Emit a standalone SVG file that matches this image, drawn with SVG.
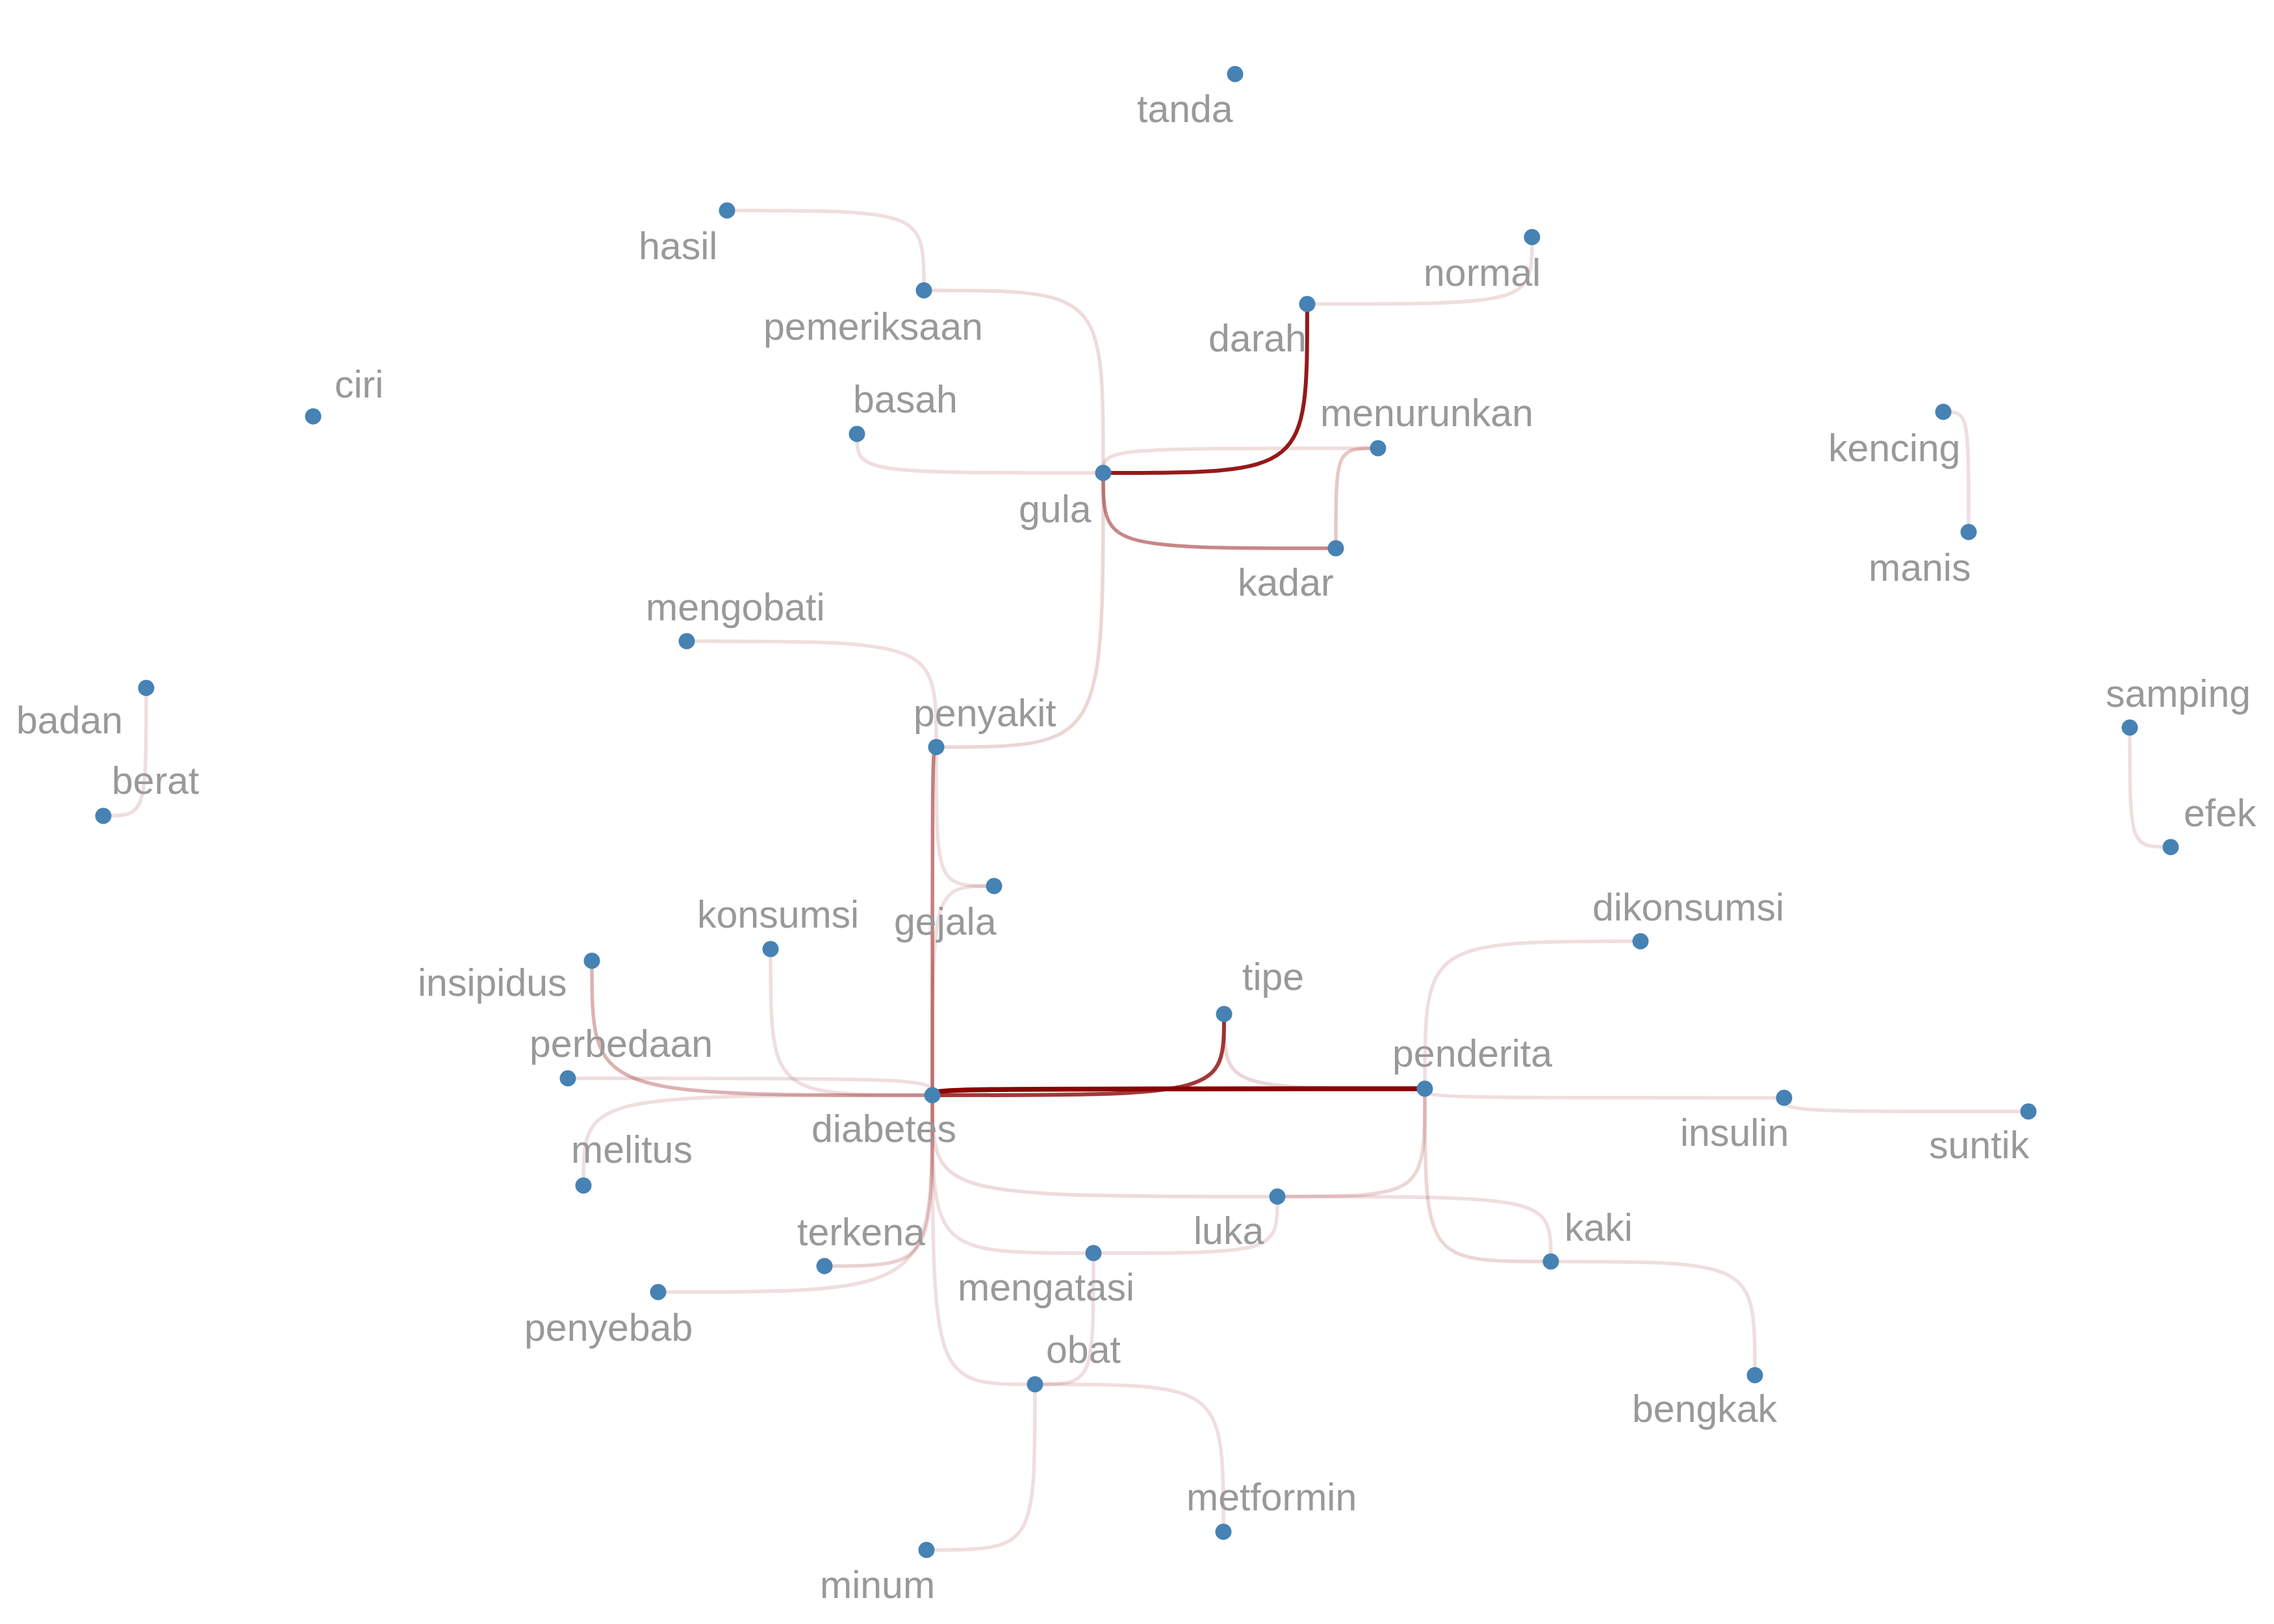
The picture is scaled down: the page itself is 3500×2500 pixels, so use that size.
<svg xmlns="http://www.w3.org/2000/svg" width="3500" height="2500" viewBox="0 0 3500 2500">
<style>
.bg{fill:#ffffff}
.e{fill:none;stroke:#8b0000;stroke-width:5.5;stroke-opacity:0.13}
.node circle{fill:#4682b4}
.node text{font-family:"Liberation Sans",Arial,Helvetica,sans-serif;font-size:59px;fill:#999999}
</style>
<rect class="bg" x="0" y="0" width="3500" height="2500"/>
<g id="edges">
<path class="e" d="M1119,324 C1422,324 1422,324 1422,447"/>
<path class="e" style="stroke-opacity:0.14" d="M1422,447 C1698,447 1698,447 1698,728"/>
<path class="e" d="M2012,468 C2358,468 2358,468 2358,365"/>
<path class="e" d="M1319,668 C1319,728 1319,728 1698,728"/>
<path class="e" d="M1698,728 C1698,690 1698,690 2121,690"/>
<path class="e" style="stroke-opacity:0.47" d="M1698,728 C1698,844 1698,844 2056,844"/>
<path class="e" style="stroke-opacity:0.22" d="M2121,690 C2056,690 2056,690 2056,844"/>
<path class="e" style="stroke-opacity:0.16" d="M1698,728 C1698,1150 1698,1150 1441,1150"/>
<path class="e" d="M1057,987 C1441,987 1441,987 1441,1150"/>
<path class="e" d="M1441,1150 C1441,1364 1441,1364 1530,1364"/>
<path class="e" d="M1530,1364 C1435,1364 1435,1364 1435,1686"/>
<path class="e" d="M225,1059 C225,1256 225,1256 159,1256"/>
<path class="e" d="M2991,634 C3030,634 3030,634 3030,819"/>
<path class="e" d="M3278,1120 C3278,1304 3278,1304 3341,1304"/>
<path class="e" style="stroke-opacity:0.3" d="M911,1479 C911,1686 911,1686 1435,1686"/>
<path class="e" d="M1186,1461 C1186,1686 1186,1686 1435,1686"/>
<path class="e" d="M874,1660 C1435,1660 1435,1660 1435,1686"/>
<path class="e" d="M898,1825 C898,1686 898,1686 1435,1686"/>
<path class="e" style="stroke-opacity:0.16" d="M1884,1561 C1884,1676 1884,1676 2193,1676"/>
<path class="e" d="M2193,1676 C2193,1449 2193,1449 2525,1449"/>
<path class="e" d="M2193,1676 C2193,1690 2193,1690 2746,1690"/>
<path class="e" d="M2746,1690 C2746,1711 2746,1711 3122,1711"/>
<path class="e" style="stroke-opacity:0.16" d="M2193,1676 C2193,1842 2193,1842 1966,1842"/>
<path class="e" style="stroke-opacity:0.14" d="M1435,1686 C1435,1842 1435,1842 1966,1842"/>
<path class="e" d="M1966,1842 C2387,1842 2387,1842 2387,1942"/>
<path class="e" style="stroke-opacity:0.16" d="M2193,1676 C2193,1942 2193,1942 2387,1942"/>
<path class="e" d="M2387,1942 C2701,1942 2701,1942 2701,2117"/>
<path class="e" d="M1435,1686 C1435,1929 1435,1929 1683,1929"/>
<path class="e" d="M1683,1929 C1966,1929 1966,1929 1966,1842"/>
<path class="e" style="stroke-opacity:0.18" d="M1435,1686 C1435,1949 1435,1949 1269,1949"/>
<path class="e" d="M1435,1686 C1435,1989 1435,1989 1013,1989"/>
<path class="e" d="M1435,1686 C1435,2131 1435,2131 1593,2131"/>
<path class="e" d="M1683,1929 C1683,2131 1683,2131 1593,2131"/>
<path class="e" d="M1593,2131 C1593,2386 1593,2386 1426,2386"/>
<path class="e" d="M1593,2131 C1883,2131 1883,2131 1883,2358"/>
<path class="e" style="stroke-opacity:0.5" d="M1441,1150 C1435,1150 1435,1150 1435,1686"/>
<path class="e" style="stroke-opacity:0.78;stroke-width:6" d="M1435,1686 C1884,1686 1884,1686 1884,1561"/>
<path class="e" style="stroke-opacity:0.9;stroke-width:6" d="M1698,728 C2012,728 2012,728 2012,468"/>
<path class="e" style="stroke-opacity:1;stroke-width:7.5" d="M1435,1686 C1435,1676 1435,1676 2193,1676"/>
</g>
<g id="n-tanda" class="node"><circle cx="1901" cy="114" r="12.5"/><text x="1750" y="188">tanda</text></g>
<g id="n-hasil" class="node"><circle cx="1119" cy="324" r="12.5"/><text x="983" y="399">hasil</text></g>
<g id="n-pemeriksaan" class="node"><circle cx="1422" cy="447" r="12.5"/><text x="1175" y="523">pemeriksaan</text></g>
<g id="n-normal" class="node"><circle cx="2358" cy="365" r="12.5"/><text x="2191" y="440">normal</text></g>
<g id="n-darah" class="node"><circle cx="2012" cy="468" r="12.5"/><text x="1860" y="541">darah</text></g>
<g id="n-ciri" class="node"><circle cx="482" cy="641" r="12.5"/><text x="515" y="612">ciri</text></g>
<g id="n-basah" class="node"><circle cx="1319" cy="668" r="12.5"/><text x="1313" y="635">basah</text></g>
<g id="n-gula" class="node"><circle cx="1698" cy="728" r="12.5"/><text x="1568" y="804">gula</text></g>
<g id="n-menurunkan" class="node"><circle cx="2121" cy="690" r="12.5"/><text x="2032" y="656">menurunkan</text></g>
<g id="n-kadar" class="node"><circle cx="2056" cy="844" r="12.5"/><text x="1905" y="917">kadar</text></g>
<g id="n-kencing" class="node"><circle cx="2991" cy="634" r="12.5"/><text x="2814" y="710">kencing</text></g>
<g id="n-manis" class="node"><circle cx="3030" cy="819" r="12.5"/><text x="2876" y="894">manis</text></g>
<g id="n-mengobati" class="node"><circle cx="1057" cy="987" r="12.5"/><text x="994" y="955">mengobati</text></g>
<g id="n-penyakit" class="node"><circle cx="1441" cy="1150" r="12.5"/><text x="1406" y="1118">penyakit</text></g>
<g id="n-badan" class="node"><circle cx="225" cy="1059" r="12.5"/><text x="25" y="1129">badan</text></g>
<g id="n-berat" class="node"><circle cx="159" cy="1256" r="12.5"/><text x="172" y="1222">berat</text></g>
<g id="n-samping" class="node"><circle cx="3278" cy="1120" r="12.5"/><text x="3241" y="1088">samping</text></g>
<g id="n-efek" class="node"><circle cx="3341" cy="1304" r="12.5"/><text x="3361" y="1272">efek</text></g>
<g id="n-gejala" class="node"><circle cx="1530" cy="1364" r="12.5"/><text x="1376" y="1439">gejala</text></g>
<g id="n-konsumsi" class="node"><circle cx="1186" cy="1461" r="12.5"/><text x="1073" y="1428">konsumsi</text></g>
<g id="n-dikonsumsi" class="node"><circle cx="2525" cy="1449" r="12.5"/><text x="2451" y="1417">dikonsumsi</text></g>
<g id="n-insipidus" class="node"><circle cx="911" cy="1479" r="12.5"/><text x="643" y="1533">insipidus</text></g>
<g id="n-tipe" class="node"><circle cx="1884" cy="1561" r="12.5"/><text x="1912" y="1524">tipe</text></g>
<g id="n-perbedaan" class="node"><circle cx="874" cy="1660" r="12.5"/><text x="815" y="1627">perbedaan</text></g>
<g id="n-penderita" class="node"><circle cx="2193" cy="1676" r="12.5"/><text x="2143" y="1642">penderita</text></g>
<g id="n-diabetes" class="node"><circle cx="1435" cy="1686" r="12.5"/><text x="1249" y="1758">diabetes</text></g>
<g id="n-insulin" class="node"><circle cx="2746" cy="1690" r="12.5"/><text x="2586" y="1764">insulin</text></g>
<g id="n-suntik" class="node"><circle cx="3122" cy="1711" r="12.5"/><text x="2969" y="1783">suntik</text></g>
<g id="n-melitus" class="node"><circle cx="898" cy="1825" r="12.5"/><text x="879" y="1790">melitus</text></g>
<g id="n-luka" class="node"><circle cx="1966" cy="1842" r="12.5"/><text x="1837" y="1915">luka</text></g>
<g id="n-kaki" class="node"><circle cx="2387" cy="1942" r="12.5"/><text x="2408" y="1910">kaki</text></g>
<g id="n-terkena" class="node"><circle cx="1269" cy="1949" r="12.5"/><text x="1227" y="1917">terkena</text></g>
<g id="n-mengatasi" class="node"><circle cx="1683" cy="1929" r="12.5"/><text x="1474" y="2002">mengatasi</text></g>
<g id="n-penyebab" class="node"><circle cx="1013" cy="1989" r="12.5"/><text x="807" y="2064">penyebab</text></g>
<g id="n-obat" class="node"><circle cx="1593" cy="2131" r="12.5"/><text x="1610" y="2098">obat</text></g>
<g id="n-bengkak" class="node"><circle cx="2701" cy="2117" r="12.5"/><text x="2512" y="2189">bengkak</text></g>
<g id="n-metformin" class="node"><circle cx="1883" cy="2358" r="12.5"/><text x="1826" y="2325">metformin</text></g>
<g id="n-minum" class="node"><circle cx="1426" cy="2386" r="12.5"/><text x="1262" y="2460">minum</text></g>
</svg>
